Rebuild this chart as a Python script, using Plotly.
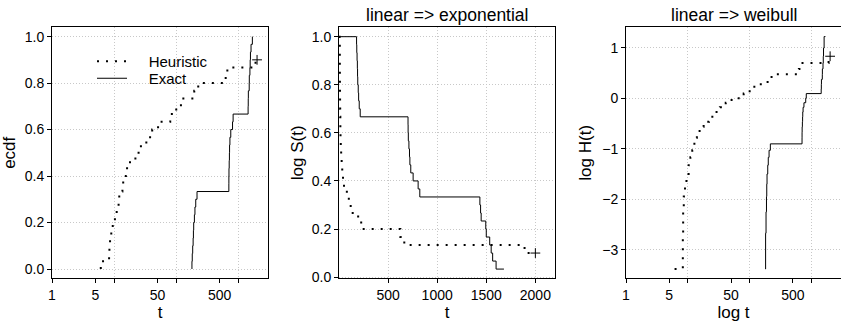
import numpy as np
import plotly.graph_objects as go

# ---------------- data ----------------
N_UNITS = 30
heuristic_event_times = [6.1, 8.3, 8.4, 8.6, 9.0, 9.5, 10.3, 11.0, 11.8, 12.1,
                         13.6, 14.0, 15.5, 18, 22, 27, 33, 41, 51, 80,
                         100, 119, 195, 226, 625, 665, 1890]
heuristic_censor_time = 2000
exact_event_times = [179, 181, 184, 187, 189, 191, 196, 200, 206, 216,
                     703, 704, 706, 712, 718, 722, 731, 755, 806, 823,
                     1435, 1442, 1448, 1495, 1500, 1535, 1550, 1565, 1600, 1680]

log_tickvals = [1, 5, 10, 50, 100, 500, 1000]
log_ticktext = ["1", "5", "", "50", "", "500", ""]
log_gridvals = [10, 100, 1000]
lin_tickvals = [500, 1000, 1500, 2000]
ecdf_ticks = [0.0, 0.2, 0.4, 0.6, 0.8, 1.0]
logH_ticks = [-3, -2, -1, 0, 1]

titles = ["", "linear => exponential", "linear => weibull"]
xtitles = ["t", "t", "log t"]
ytitles = ["ecdf", "log S(t)", "log H(t)"]
series_names = ["Heuristic", "Exact"]

# ---------------- derived step functions ----------------
n = N_UNITS
h = np.array(heuristic_event_times, float)
e = np.array(exact_event_times, float)
kh = np.arange(1, len(h) + 1)
ke = np.arange(1, len(e) + 1)

# ecdf
h_ecdf_x = np.r_[h[0], h, heuristic_censor_time]
h_ecdf_y = np.r_[0, kh / n, kh[-1] / n]
e_ecdf_x = np.r_[e[0], e]
e_ecdf_y = np.r_[0, ke / n]
# survival
h_S_x = np.r_[0, h, heuristic_censor_time]
h_S_y = np.r_[1, 1 - kh / n, 1 - kh[-1] / n]
e_S_x = np.r_[0, e]
e_S_y = np.r_[1, 1 - ke[:-1] / n, 1 - ke[-2] / n]
# log cumulative hazard
h_H_x = np.r_[h, heuristic_censor_time]
h_H_y = np.log(-np.log(h_S_y[1:]))
e_H_x = e
e_H_y = np.log(-np.log(e_S_y[1:]))

W, H = 841, 322
FONT = "Liberation Sans, Arial, sans-serif"
GRID = "#c8c8c8"
GRIDDASH = "1px,2px"
PAD = "\u00a0" * 4  # gap between legend line sample and its label

heur_line = dict(color="black", width=2, dash="2px,7px")
exact_line = dict(color="black", width=1)

fig = go.Figure()
panels = [
    (h_ecdf_x, h_ecdf_y, e_ecdf_x, e_ecdf_y),
    (h_S_x, h_S_y, e_S_x, e_S_y),
    (h_H_x, h_H_y, e_H_x, e_H_y),
]
for i, (hx, hy, ex, ey) in enumerate(panels):
    ax = "" if i == 0 else str(i + 1)
    fig.add_trace(go.Scatter(x=hx, y=hy, mode="lines", line=heur_line, line_shape="hv",
                             name=PAD + series_names[0], showlegend=(i == 0),
                             legend="legend", xaxis="x" + ax, yaxis="y" + ax))
    fig.add_trace(go.Scatter(x=ex, y=ey, mode="lines", line=exact_line, line_shape="hv",
                             name=PAD + series_names[1], showlegend=(i == 0),
                             legend="legend2", xaxis="x" + ax, yaxis="y" + ax))
    fig.add_trace(go.Scatter(x=[hx[-1]], y=[hy[-1]], mode="markers",
                             marker=dict(symbol="cross-thin", size=7,
                                         line=dict(color="black", width=1)),
                             showlegend=False, xaxis="x" + ax, yaxis="y" + ax))

# panel pixel geometry
x_left = [52, 339, 626]
pw = 216
y_top, y_bot = 27.3, 278.3
ydom = [(H - y_bot) / H, (H - y_top) / H]

leg_common = dict(x=92 / W, xanchor="left", yanchor="top",
                  bgcolor="rgba(0,0,0,0)", font=dict(size=15))
layout = dict(
    width=W, height=H, margin=dict(l=0, r=0, t=0, b=0),
    paper_bgcolor="white", plot_bgcolor="white",
    font=dict(family=FONT, size=14, color="black"),
    legend=dict(y=(H - 45) / H, **leg_common),
    legend2=dict(y=(H - 62) / H, **leg_common),
    showlegend=True,
)

log_range = [0, np.log10(3000)]
xranges = [log_range, [0, 2200], log_range]
yranges = [[-0.04, 1.04], [-0.005, 1.039], [-3.568, 1.408]]
ystandoff = [10, 3, 6]

for i in range(3):
    ax = "" if i == 0 else str(i + 1)
    x0 = x_left[i] / W
    x1 = min((x_left[i] + pw) / W, 1.0)
    xa = dict(domain=[x0, x1], anchor="y" + ax, range=xranges[i],
              showline=True, linecolor="black", linewidth=1, mirror=True,
              ticks="outside", ticklen=4, tickcolor="black",
              zeroline=False, automargin=False,
              title=dict(text=xtitles[i], font=dict(size=17), standoff=4),
              tickfont=dict(size=14))
    if i in (0, 2):
        xa.update(type="log", tickmode="array", tickvals=log_tickvals,
                  ticktext=log_ticktext, showgrid=False,
                  minor=dict(tickmode="array", tickvals=log_gridvals, showgrid=True,
                             gridcolor=GRID, griddash=GRIDDASH, gridwidth=1, ticks=""))
    else:
        xa.update(tickmode="array", tickvals=lin_tickvals, showgrid=True,
                  gridcolor=GRID, griddash=GRIDDASH, gridwidth=1)
    ya = dict(domain=ydom, anchor="x" + ax, range=yranges[i],
              showline=True, linecolor="black", linewidth=1, mirror=(i != 2),
              ticks="outside", ticklen=4, tickcolor="black",
              zeroline=False, automargin=False, showgrid=True,
              gridcolor=GRID, griddash=GRIDDASH, gridwidth=1,
              title=dict(text=ytitles[i], font=dict(size=17), standoff=ystandoff[i]),
              tickfont=dict(size=14))
    if i == 2:
        ya.update(tickmode="array", tickvals=logH_ticks)
    else:
        ya.update(tickmode="array", tickvals=ecdf_ticks,
                  ticktext=[f"{v:.1f}" for v in ecdf_ticks])
    layout["xaxis" + ax] = xa
    layout["yaxis" + ax] = ya

annotations = []
for i in range(3):
    if titles[i]:
        annotations.append(dict(text=titles[i], x=(x_left[i] + pw / 2) / W,
                                y=(H - 15) / H, xref="paper", yref="paper",
                                showarrow=False, font=dict(size=17.5),
                                xanchor="center", yanchor="middle"))
layout["annotations"] = annotations
fig.update_layout(**layout)
fig.write_html("out.html")
